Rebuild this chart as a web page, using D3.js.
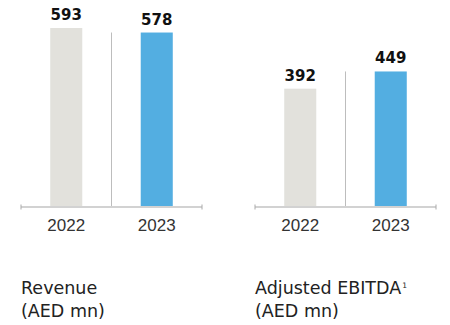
<!DOCTYPE html>
<html>
<head>
<meta charset="utf-8">
<script src="https://cdn.jsdelivr.net/npm/d3@7"></script>
<style>
  html, body { margin: 0; padding: 0; background: #fff; }
  svg { display: block; }
</style>
</head>
<body>
<svg id="chart" width="450" height="325"></svg>
<script>
const years = ["2022", "2023"];
const revenue = [593, 578];
const ebitda = [392, 449];
const panelTitles = ["Revenue", "Adjusted EBITDA"];
const panelSups = ["", "1"];
const panelUnits = ["(AED mn)", "(AED mn)"];
const barColors = ["#e2e1dc", "#53aee1"];

const svg = d3.select("#chart");
const y = d3.scaleLinear().domain([0, 593]).range([207, 28]);

const panels = [revenue, ebitda];
const offsets = [0, 234];

panels.forEach((vals, i) => {
  const g = svg.append("g").attr("transform", `translate(${offsets[i]},0)`);
  const x = d3.scaleBand().domain(years).range([21, 202])
    .paddingInner(0.646).paddingOuter(0.323);

  // divider between years
  const mid = (x(years[0]) + x(years[1]) + x.bandwidth()) / 2;
  g.append("line")
    .attr("x1", mid).attr("x2", mid)
    .attr("y1", y(vals[1])).attr("y2", y(0))
    .attr("stroke", "#bdbdbd").attr("stroke-width", 1);

  // bars
  g.selectAll("rect.bar").data(vals).join("rect")
    .attr("class", "bar")
    .attr("x", (d, j) => x(years[j]))
    .attr("width", x.bandwidth())
    .attr("y", d => y(d))
    .attr("height", d => y(0) - y(d))
    .attr("fill", (d, j) => barColors[j]);

  // axis
  const axis = d3.axisBottom(x).tickSize(0).tickPadding(15);
  const ag = g.append("g").attr("transform", `translate(0,${y(0)})`).call(axis);
  ag.select(".domain").remove();
  ag.append("line")
    .attr("x1", 21).attr("x2", 202).attr("y1", 0).attr("y2", 0)
    .attr("stroke", "#d2d2d2").attr("stroke-width", 2);
  [21, 202].forEach(px => {
    ag.append("line").attr("x1", px).attr("x2", px).attr("y1", -2.5).attr("y2", 2.5)
      .attr("stroke", "#aaa").attr("stroke-width", 1);
  });
  ag.selectAll(".tick text")
    .attr("font-family", "Liberation Sans, Arial, sans-serif")
    .attr("font-size", 17)
    .attr("fill", "#333")
    .attr("dy", null)
    .attr("y", 24);

  // value labels
  g.selectAll("text.val").data(vals).join("text")
    .attr("class", "val")
    .attr("x", (d, j) => x(years[j]) + x.bandwidth() / 2)
    .attr("y", d => y(d) - 8)
    .attr("text-anchor", "middle")
    .attr("font-family", "DejaVu Sans, sans-serif")
    .attr("font-weight", "bold")
    .attr("font-size", 15)
    .attr("fill", "#111")
    .text(d => d);

  // titles
  const t = g.append("text")
    .attr("x", 21).attr("y", 294)
    .attr("font-family", "DejaVu Sans, sans-serif")
    .attr("font-size", 17.5)
    .attr("fill", "#222");
  t.append("tspan").text(panelTitles[i]);
  if (panelSups[i]) {
    t.append("tspan").attr("font-size", 7.5).attr("dy", -6.5).attr("dx", 1).text(panelSups[i]);
  }
  g.append("text")
    .attr("x", 21).attr("y", 317)
    .attr("font-family", "DejaVu Sans, sans-serif")
    .attr("font-size", 17.5)
    .attr("fill", "#222")
    .text(panelUnits[i]);
});
</script>
</body>
</html>
